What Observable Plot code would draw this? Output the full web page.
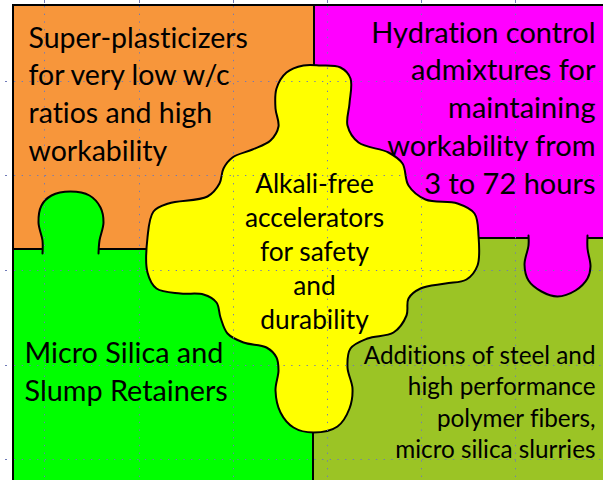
<!DOCTYPE html>
<html><head><meta charset="utf-8">
<script src="https://cdn.jsdelivr.net/npm/d3@7"></script>
<script src="https://cdn.jsdelivr.net/npm/@observablehq/plot@0.6"></script>
<style>html,body{margin:0;padding:0;background:#fff;}svg{display:block}svg text{font-variant-ligatures:none;font-feature-settings:"liga" 0,"clig" 0;}</style>
</head><body><div id="chart"></div>
<script>
const W = 603, H = 480;

// Four background puzzle tiles (diagram units = canvas pixels)
const tileColors = ["#F7963B", "#FF00FF", "#00FF00", "#9BC425"];
const tileX1 = [13, 314, 13, 313];
const tileX2 = [314, 608, 313, 608];
const tileY1 = [5, 5, 249, 238];
const tileY2 = [249, 238, 486, 486];

// Tab of the green piece (into orange) and of the magenta piece (into olive)
const greenTabX = [42, 42, 38, 41, 51, 70, 89, 100, 103, 99, 98];
const greenTabY = [253, 240, 222, 205, 195, 191, 195, 207, 222, 240, 253];
const magentaTabX = [528, 528, 524, 528, 541, 557, 575, 587, 590, 587, 587];
const magentaTabY = [235, 245, 264, 280, 291, 296, 290, 278, 266, 248, 235];

// Central yellow piece outline
const yellowX = [303, 320, 340, 350, 349, 347, 358, 388, 402, 408, 425, 457, 474, 478, 477, 466, 445, 420, 408, 406, 393, 367, 350, 347, 352, 349, 337, 313, 293, 280, 275, 278, 276, 266, 243, 227, 220, 216, 203, 180, 156, 147, 147, 153, 168, 207, 219, 223, 232, 252, 270, 278, 275, 276, 286];
const yellowY = [65, 65, 67, 78, 103, 125, 142, 152, 163, 185, 199, 203, 213, 235, 265, 279, 283, 288, 298, 315, 332, 338, 348, 367, 388, 408, 426, 432, 427, 412, 390, 370, 357, 347, 342, 333, 317, 302, 294, 293, 288, 272, 237, 211, 203, 196, 183, 168, 157, 149, 140, 126, 108, 88, 72];

// Texts
const orangeText = ["Super-plasticizers", "for very low w/c", "ratios and high", "workability"];
const magentaText = ["Hydration control", "admixtures for", "maintaining", "workability from", "3 to 72 hours"];
const yellowText = ["Alkali-free", "accelerators", "for safety", "and", "durability"];
const greenText = ["Micro Silica and", "Slump Retainers"];
const oliveText = ["Additions of steel and", "high performance", "polymer fibers,", "micro silica slurries"];

// Guide grid
const gridX = [44, 139, 233, 327, 421, 515];
const gridY = [81, 175, 270, 365, 459];

const font = "Lato, 'Open Sans', sans-serif";
const gridColor = "#6f7ab8";
const idx = n => d3.range(n);

function textBlock(lines, x, y0, step, anchor, size) {
  return Plot.text(lines, {
    x: x, y: (d, i) => y0 + i * step, text: d => d,
    textAnchor: anchor, lineAnchor: "bottom", fontSize: size,
    fontFamily: font, fill: "black"
  });
}
function piece(xs, ys, color, curve) {
  return Plot.line(idx(xs.length), {
    x: i => xs[i], y: i => ys[i], curve,
    fill: color, stroke: "black", strokeWidth: 2
  });
}

const chart = Plot.plot({
  width: W, height: H,
  margin: 0,
  x: {domain: [0, W], range: [0, W], axis: null},
  y: {domain: [0, H], range: [0, H], axis: null},
  marks: [
    Plot.rect(idx(4), {
      x1: i => tileX1[i], x2: i => tileX2[i], y1: i => tileY1[i], y2: i => tileY2[i],
      fill: i => tileColors[i], stroke: "black", strokeWidth: 2
    }),
    piece(greenTabX, greenTabY, "#00FF00", "catmull-rom"),
    piece(magentaTabX, magentaTabY, "#FF00FF", "catmull-rom"),
    piece(yellowX, yellowY, "#FFFF00", "catmull-rom-closed"),
    Plot.ruleX(gridX, {y1: 6, y2: H, stroke: gridColor, strokeDasharray: "1.3,6.4"}),
    Plot.ruleY(gridY, {x1: 14, x2: W, stroke: gridColor, strokeDasharray: "1.3,6.4"}),
    Plot.ruleX(gridX, {y1: 0, y2: 3, stroke: gridColor}),
    Plot.ruleY(gridY, {x1: 5, x2: 7, stroke: gridColor}),
    textBlock(orangeText, 28, 47, 37.7, "start", 28.5),
    textBlock(magentaText, 595, 42, 37.8, "end", 29),
    textBlock(yellowText, 314, 192, 34, "middle", 26.3),
    textBlock(greenText, 24, 362, 38, "start", 28.8),
    textBlock(oliveText, 595, 363, 31.5, "end", 24.3)
  ]
});
document.getElementById("chart").appendChild(chart);
</script>
</body></html>
